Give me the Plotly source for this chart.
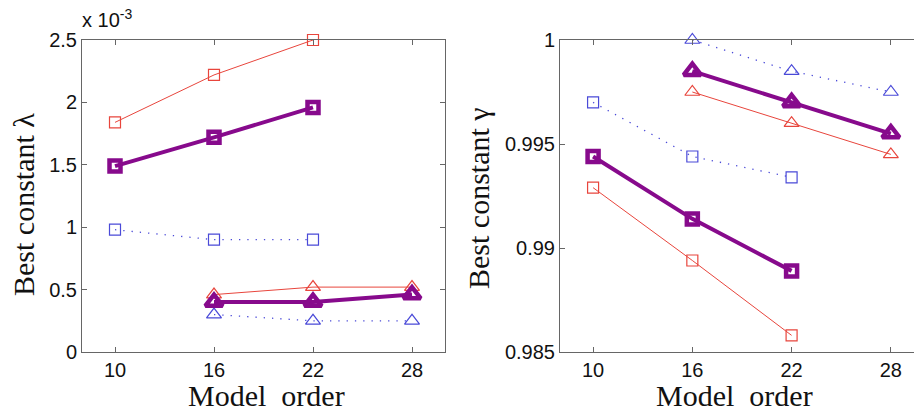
import plotly.graph_objects as go
from plotly.subplots import make_subplots

# Data
orders_sq = [10, 16, 22]
orders_tri = [16, 22, 28]

# Left: best constant lambda (x 1e-3)
lam_red_sq = [1.84, 2.22, 2.50]
lam_pur_sq = [1.49, 1.72, 1.96]
lam_blu_sq = [0.98, 0.90, 0.90]
lam_red_tri = [0.46, 0.52, 0.52]
lam_pur_tri = [0.40, 0.40, 0.46]
lam_blu_tri = [0.30, 0.25, 0.25]

# Right: best constant gamma
gam_blu_tri = [1.0000, 0.9985, 0.9975]
gam_pur_tri = [0.9985, 0.9970, 0.9955]
gam_red_tri = [0.9975, 0.9960, 0.9945]
gam_blu_sq = [0.9970, 0.9944, 0.9934]
gam_pur_sq = [0.9944, 0.9914, 0.9889]
gam_red_sq = [0.9929, 0.9894, 0.9858]

x_ticks = [10, 16, 22, 28]
lam_ticks = [0, 0.5, 1, 1.5, 2, 2.5]
lam_ticklabels = ["0", "0.5", "1", "1.5", "2", "2.5"]
gam_ticks = [0.985, 0.99, 0.995, 1.0]
gam_ticklabels = ["0.985", "0.99", "0.995", "1"]

RED = "#e8453c"
BLUE = "#4a4ad8"
PURPLE = "#870a8c"

fig = make_subplots(rows=1, cols=2)


def add(x, y, kind, sym, col):
    if kind == "red":
        line = dict(color=RED, width=1)
        marker = dict(symbol=sym + "-open", size=11 if sym == "square" else 13,
                      color=RED, line=dict(width=1.2, color=RED))
    elif kind == "blue":
        line = dict(color=BLUE, width=1.3, dash="1.3px,7px")
        marker = dict(symbol=sym + "-open", size=11 if sym == "square" else 13,
                      color=BLUE, line=dict(width=1.2, color=BLUE))
    else:
        line = dict(color=PURPLE, width=4)
        marker = dict(symbol=sym + "-open", size=11 if sym == "square" else 15,
                      color=PURPLE, line=dict(width=4.5, color=PURPLE))
    fig.add_trace(go.Scatter(x=x, y=y, mode="lines+markers", line=line,
                             marker=marker, showlegend=False, cliponaxis=False),
                  row=1, col=col)


add(orders_sq, lam_red_sq, "red", "square", 1)
add(orders_sq, lam_blu_sq, "blue", "square", 1)
add(orders_tri, lam_red_tri, "red", "triangle-up", 1)
add(orders_tri, lam_blu_tri, "blue", "triangle-up", 1)
add(orders_sq, lam_pur_sq, "purple", "square", 1)
add(orders_tri, lam_pur_tri, "purple", "triangle-up", 1)

add(orders_tri, gam_blu_tri, "blue", "triangle-up", 2)
add(orders_sq, gam_blu_sq, "blue", "square", 2)
add(orders_tri, gam_red_tri, "red", "triangle-up", 2)
add(orders_sq, gam_red_sq, "red", "square", 2)
add(orders_tri, gam_pur_tri, "purple", "triangle-up", 2)
add(orders_sq, gam_pur_sq, "purple", "square", 2)

W, H = 914, 415
ydom = [1 - 352 / H, 1 - 40 / H]
tickfont = dict(family="Liberation Sans, Arial", size=20, color="#111")
axcol = "#666"

common_x = dict(tickvals=x_ticks, ticktext=[str(v) for v in x_ticks],
                ticks="inside", ticklen=5, tickcolor=axcol, showline=True,
                linecolor=axcol, linewidth=1, showgrid=False, zeroline=False,
                tickfont=tickfont, automargin=False)
fig.update_xaxes(domain=[82 / W, 445 / W], range=[8, 30], mirror="ticks",
                 **common_x, row=1, col=1)
fig.update_xaxes(domain=[560 / W, 1.0], range=[8, 29.4], mirror="ticks",
                 **common_x, row=1, col=2)

common_y = dict(ticks="inside", ticklen=5, tickcolor=axcol, showline=True,
                linecolor=axcol, linewidth=1, showgrid=False, zeroline=False,
                tickfont=tickfont, domain=ydom, automargin=False)
fig.update_yaxes(range=[0, 2.5], tickvals=lam_ticks, ticktext=lam_ticklabels,
                 mirror="ticks", **common_y, row=1, col=1)
fig.update_yaxes(range=[0.985, 1.0], tickvals=gam_ticks, ticktext=gam_ticklabels,
                 mirror=False, **common_y, row=1, col=2)

titlefont = dict(family="Liberation Serif, Times New Roman", size=30, color="#111")
fig.add_annotation(text="Model  order", x=(82 + 445) / 2 / W + 0.003, y=1 - 395 / H,
                   xref="paper", yref="paper", showarrow=False, font=titlefont,
                   xanchor="center", yanchor="middle")
fig.add_annotation(text="Model  order", x=(560 + 914) / 2 / W - 0.003, y=1 - 395 / H,
                   xref="paper", yref="paper", showarrow=False, font=titlefont,
                   xanchor="center", yanchor="middle")
fig.add_annotation(text="Best constant λ", x=24 / W, y=1 - 205 / H,
                   xref="paper", yref="paper", showarrow=False, font=titlefont,
                   textangle=-90, xanchor="center", yanchor="middle")
fig.add_annotation(text="Best constant γ", x=478 / W, y=1 - 198 / H,
                   xref="paper", yref="paper", showarrow=False, font=titlefont,
                   textangle=-90, xanchor="center", yanchor="middle")
fig.add_annotation(text="x 10<sup>-3</sup>", x=80 / W, y=1 - 33 / H,
                   xref="paper", yref="paper", showarrow=False,
                   font=dict(family="Liberation Sans, Arial", size=20, color="#111"),
                   xanchor="left", yanchor="bottom")

fig.update_layout(width=W, height=H, margin=dict(l=0, r=0, t=0, b=0, autoexpand=False),
                  plot_bgcolor="white", paper_bgcolor="white")

fig.write_html("out.html")
